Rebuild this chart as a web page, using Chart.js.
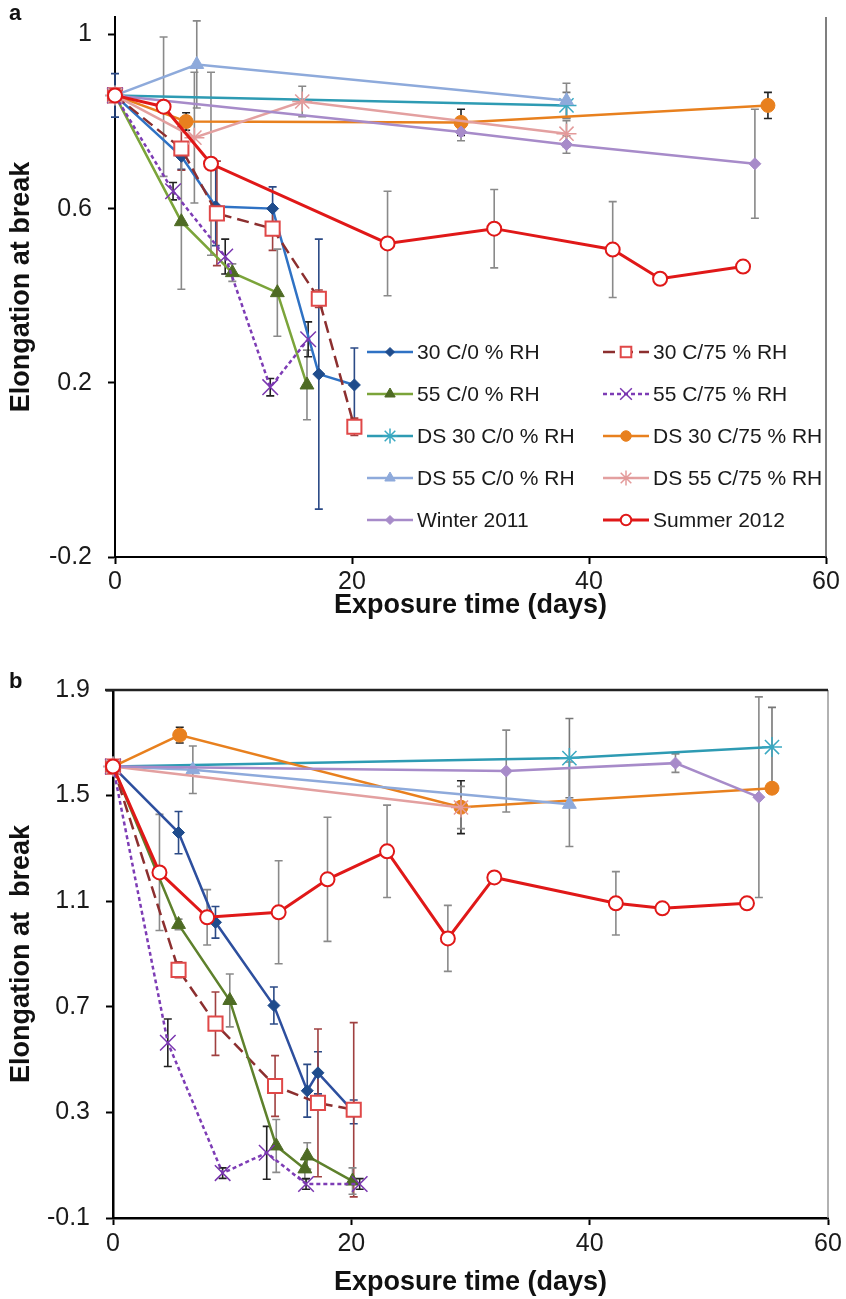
<!DOCTYPE html>
<html>
<head>
<meta charset="utf-8">
<script src="https://cdn.jsdelivr.net/npm/chart.js@4.4.1/dist/chart.umd.min.js"></script>
<style>
  body { margin: 0; background: #fff; }
  .wrap { position: absolute; left: 0; width: 846px; }
  .tag { position: absolute; left: 9px; font: bold 22px 'Liberation Sans', Arial, sans-serif; color: #111; }
</style>
</head>
<body>
<div class="wrap" style="top:0;height:650px"><canvas id="chartA" width="846" height="650"></canvas></div>
<div class="wrap" style="top:650px;height:649px"><canvas id="chartB" width="846" height="649"></canvas></div>
<div class="tag" style="top:0px">a</div>
<div class="tag" style="top:668px">b</div>
<script>
'use strict';

const seriesNames = ['30 C/0 % RH', '30 C/75 % RH', '55 C/0 % RH', '55 C/75 % RH',
  'DS 30 C/0 % RH', 'DS 30 C/75 % RH', 'DS 55 C/0 % RH', 'DS 55 C/75 % RH',
  'Winter 2011', 'Summer 2012'];
const xTicks = [0, 20, 40, 60];
const yTicksA = [-0.2, 0.2, 0.6, 1];
const yTicksB = [-0.1, 0.3, 0.7, 1.1, 1.5, 1.9];

// panel a - one row per series, same order as seriesNames
const daysA = [
  [0, 5.6, 8.5, 13.3, 17.2, 20.2],
  [0, 5.6, 8.6, 13.3, 17.2, 20.2],
  [0, 5.6, 9.9, 13.7, 16.2],
  [0, 4.9, 9.3, 13.1, 16.3],
  [0, 38.1],
  [0, 6.0, 29.2, 55.1],
  [0, 6.9, 38.1],
  [0, 6.7, 15.8, 38.1],
  [0, 29.2, 38.1, 54.0],
  [0, 4.1, 8.1, 23.0, 32.0, 42.0, 46.0, 53.0]
];
const valsA = [
  [0.86, 0.72, 0.605, 0.60, 0.22, 0.195],
  [0.86, 0.738, 0.589, 0.554, 0.393, 0.099],
  [0.86, 0.57, 0.453, 0.407, 0.195],
  [0.86, 0.64, 0.49, 0.19, 0.30],
  [0.86, 0.837],
  [0.86, 0.80, 0.798, 0.837],
  [0.86, 0.931, 0.848],
  [0.86, 0.763, 0.846, 0.772],
  [0.86, 0.776, 0.747, 0.703],
  [0.86, 0.834, 0.703, 0.52, 0.554, 0.506, 0.439, 0.467]
];
const errA = [
  [0.05, 0.03, 0.09, 0.05, 0.31, 0.085],
  [0, 0.05, 0.12, 0.05, 0.02, 0.02],
  [0, 0.155, 0.02, 0.1, 0.08],
  [0, 0.02, 0.04, 0.02, 0.04],
  [0, 0.03],
  [0, 0.02, 0.03, 0.03],
  [0, 0.1, 0.04],
  [0, 0.15, 0.035, 0.03],
  [0, 0.02, 0.02, 0.125],
  [0, 0.16, 0.21, 0.12, 0.09, 0.11, 0, 0]
];

// panel b
const daysB = [
  [0, 5.5, 8.6, 13.5, 16.3, 17.2, 20.2],
  [0, 5.5, 8.6, 13.6, 17.2, 20.2],
  [0, 5.5, 9.8, 13.7, 16.1, 16.3, 20.1],
  [0, 4.6, 9.2, 12.9, 16.2, 20.7],
  [0, 38.3, 55.3],
  [0, 5.6, 29.2, 55.3],
  [0, 6.7, 38.3],
  [0, 29.2],
  [0, 33.0, 47.2, 54.2],
  [0, 3.9, 7.9, 13.9, 18.0, 23.0, 28.1, 32.0, 42.2, 46.1, 53.2]
];
const valsB = [
  [1.61, 1.36, 1.02, 0.705, 0.382, 0.45, 0.302],
  [1.61, 0.84, 0.636, 0.40, 0.336, 0.31],
  [1.61, 1.012, 0.724, 0.173, 0.086, 0.135, 0.04],
  [1.61, 0.564, 0.07, 0.147, 0.029, 0.029],
  [1.61, 1.642, 1.684],
  [1.61, 1.729, 1.456, 1.528],
  [1.61, 1.598, 1.467],
  [1.61, 1.455],
  [1.61, 1.593, 1.623, 1.494],
  [1.61, 1.209, 1.039, 1.058, 1.183, 1.289, 0.959, 1.19, 1.092, 1.073, 1.092]
];
const errB = [
  [0, 0.08, 0.06, 0.07, 0.1, 0.08, 0.045],
  [0, 0.03, 0.12, 0.115, 0.28, 0.33],
  [0, 0.02, 0.1, 0.1, 0.04, 0.05, 0.05],
  [0, 0.09, 0.02, 0.1, 0.02, 0.02],
  [0, 0.15, 0.15],
  [0, 0.03, 0.1, 0],
  [0, 0.09, 0.16],
  [0, 0.08],
  [0, 0.155, 0.035, 0.38],
  [0, 0.22, 0.105, 0.195, 0.235, 0.175, 0.125, 0, 0.12, 0, 0]
];

// look of each series (Excel-like)
const styles = [
  { line: '#2F72C4', dash: [], width: 2.5, shape: 'rectRot', r: 6, fill: '#1F4C8C', edge: '#1F4C8C', bw: 1, bar: '#2B4A86' },
  { line: '#8C2F2F', dash: [12, 6], width: 2.5, shape: 'rect', r: 10, fill: '#ffffff', edge: '#E04848', bw: 2, bar: '#A04040' },
  { line: '#7BA43A', dash: [], width: 2.5, shape: 'triangle', r: 8, fill: '#4E6B24', edge: '#4E6B24', bw: 1, bar: '#8A8A8A' },
  { line: '#7D3CB5', dash: [4, 3], width: 2.5, shape: 'crossRot', r: 11, fill: '#7A36B0', edge: '#7A36B0', bw: 1.5, bar: '#222222' },
  { line: '#2E9BB3', dash: [], width: 2.5, shape: 'star', r: 10, fill: '#3AA9C2', edge: '#3AA9C2', bw: 1.5, bar: '#777777' },
  { line: '#E8801E', dash: [], width: 2.5, shape: 'circle', r: 7, fill: '#E8801E', edge: '#E8801E', bw: 1, bar: '#222222' },
  { line: '#8EAADB', dash: [], width: 2.5, shape: 'triangle', r: 8, fill: '#8EAADB', edge: '#8EAADB', bw: 1, bar: '#888888' },
  { line: '#E3A0A0', dash: [], width: 2.5, shape: 'star', r: 10, fill: '#E39A9A', edge: '#E39A9A', bw: 1.5, bar: '#888888' },
  { line: '#A78BC9', dash: [], width: 2.5, shape: 'rectRot', r: 6, fill: '#A78BC9', edge: '#A78BC9', bw: 1, bar: '#888888' },
  { line: '#E01818', dash: [], width: 3, shape: 'circle', r: 7, fill: '#ffffff', edge: '#E01818', bw: 2, bar: '#8A8A8A' }
];
// panel b prints the two 0 % RH lines a bit darker
const lineOverrideB = { 0: '#2D4F9E', 2: '#5E812C' };

const FONT = "'Liberation Sans', Arial, sans-serif";
Chart.defaults.font.family = FONT;
Chart.defaults.color = '#1a1a1a';

function buildDatasets(days, vals, errs, override) {
  return seriesNames.map((name, i) => {
    const s = styles[i];
    return {
      label: name,
      data: days[i].map((d, j) => ({ x: d, y: vals[i][j] })),
      errors: errs[i],
      errorColor: s.bar,
      borderColor: (override && override[i]) || s.line,
      borderWidth: s.width,
      borderDash: s.dash,
      pointStyle: s.shape,
      pointRadius: s.r,
      pointBackgroundColor: s.fill,
      pointBorderColor: s.edge,
      pointBorderWidth: s.bw,
      tension: 0,
      clip: false,
      order: -i // later series on top, like Excel
    };
  });
}

// vertical error bars with small caps, drawn behind the lines
const errorBars = {
  id: 'errorBars',
  beforeDatasetsDraw(chart) {
    const { ctx } = chart;
    const x = chart.scales.x, y = chart.scales.y;
    chart.data.datasets.forEach(ds => {
      if (!ds.errors) return;
      ctx.save();
      ctx.strokeStyle = ds.errorColor;
      ctx.lineWidth = 1.6;
      ds.data.forEach((p, i) => {
        const e = ds.errors[i];
        if (!e) return;
        const px = x.getPixelForValue(p.x);
        const top = y.getPixelForValue(p.y + e);
        const bot = y.getPixelForValue(p.y - e);
        ctx.beginPath();
        ctx.moveTo(px, top); ctx.lineTo(px, bot);
        ctx.moveTo(px - 4, top); ctx.lineTo(px + 4, top);
        ctx.moveTo(px - 4, bot); ctx.lineTo(px + 4, bot);
        ctx.stroke();
      });
      ctx.restore();
    });
  }
};

// right / top frame lines of the plot box
const frame = {
  id: 'frame',
  afterDraw(chart, args, opts) {
    const { ctx, chartArea: a } = chart;
    ctx.save();
    if (opts.right) {
      ctx.strokeStyle = opts.right.color; ctx.lineWidth = opts.right.width;
      ctx.beginPath(); ctx.moveTo(a.right, a.top); ctx.lineTo(a.right, a.bottom); ctx.stroke();
    }
    if (opts.top) {
      ctx.strokeStyle = opts.top.color; ctx.lineWidth = opts.top.width;
      ctx.beginPath(); ctx.moveTo(a.left - 8, a.top); ctx.lineTo(a.right, a.top); ctx.stroke();
    }
    ctx.restore();
  }
};

// two-column legend sitting inside panel a
const insetLegend = {
  id: 'insetLegend',
  afterDraw(chart, args, opts) {
    if (!opts.show) return;
    const { ctx, chartArea: a } = chart;
    ctx.save();
    chart.data.datasets.forEach((ds, i) => {
      const x = a.left + opts.cols[i % 2];
      const y = a.top + opts.top + Math.floor(i / 2) * opts.rowGap;
      ctx.strokeStyle = ds.borderColor;
      ctx.lineWidth = ds.borderWidth;
      ctx.setLineDash(ds.borderDash);
      ctx.beginPath(); ctx.moveTo(x, y); ctx.lineTo(x + opts.lineLen, y); ctx.stroke();
      ctx.setLineDash([]);
      ctx.fillStyle = ds.pointBackgroundColor;
      ctx.strokeStyle = ds.pointBorderColor;
      ctx.lineWidth = ds.pointBorderWidth;
      Chart.helpers.drawPoint(ctx, {
        pointStyle: ds.pointStyle, radius: ds.pointRadius * 0.75,
        rotation: 0, borderWidth: ds.pointBorderWidth
      }, x + opts.lineLen / 2, y);
      ctx.fillStyle = '#1a1a1a';
      ctx.font = opts.font;
      ctx.textBaseline = 'middle';
      ctx.fillText(ds.label, x + opts.lineLen + 4, y + 1);
    });
    ctx.restore();
  }
};

function makeOptions(cfg) {
  return {
    responsive: false,
    animation: false,
    layout: { padding: cfg.padding },
    plugins: {
      legend: { display: false },
      tooltip: { enabled: false },
      frame: cfg.frame,
      insetLegend: cfg.legend || { show: false }
    },
    scales: {
      x: {
        type: 'linear', min: 0, max: 60,
        afterBuildTicks: s => { s.ticks = xTicks.map(v => ({ value: v })); },
        afterFit: s => { s.height = cfg.xHeight; s.paddingLeft = 0; s.paddingRight = 0; },
        grid: { display: true, drawOnChartArea: false, drawTicks: true, tickLength: 7, tickColor: '#000', tickWidth: 2 },
        border: { display: true, color: '#000', width: cfg.axisWidth },
        ticks: { font: { size: 25 }, color: '#1a1a1a', padding: cfg.xPad, maxRotation: 0 },
        title: {
          display: true, text: 'Exposure time (days)', color: '#111',
          font: { size: 27, weight: 'bold' }, padding: { top: 0, bottom: cfg.xTitlePad }
        }
      },
      y: {
        type: 'linear', min: cfg.yMin, max: cfg.yMax,
        afterBuildTicks: s => { s.ticks = cfg.yTicks.map(v => ({ value: v })); },
        afterFit: s => { s.width = cfg.yWidth; s.paddingTop = 0; s.paddingBottom = 0; },
        grid: { display: true, drawOnChartArea: false, drawTicks: true, tickLength: 7, tickColor: '#000', tickWidth: 2 },
        border: { display: true, color: '#000', width: cfg.axisWidth },
        ticks: { font: { size: 25 }, color: '#1a1a1a', padding: 16, callback: v => String(v) },
        title: {
          display: true, text: cfg.yTitle, color: '#111',
          font: { size: 27, weight: 'bold' }, padding: { top: 5, bottom: 0 }
        }
      }
    }
  };
}

new Chart(document.getElementById('chartA'), {
  type: 'line',
  data: { datasets: buildDatasets(daysA, valsA, errA) },
  options: makeOptions({
    padding: { top: 17, right: 20, left: 0, bottom: 0 },
    xHeight: 93, xPad: 3, xTitlePad: 28, yWidth: 115, axisWidth: 2,
    yMin: -0.2, yMax: 1.04, yTicks: yTicksA, yTitle: 'Elongation at break',
    frame: { right: { color: '#555', width: 1.5 } },
    legend: { show: true, cols: [252, 488], top: 335, rowGap: 42, lineLen: 46, font: '21px ' + FONT }
  }),
  plugins: [errorBars, frame, insetLegend]
});

new Chart(document.getElementById('chartB'), {
  type: 'line',
  data: { datasets: buildDatasets(daysB, valsB, errB, lineOverrideB) },
  options: makeOptions({
    padding: { top: 40, right: 18, left: 0, bottom: 0 },
    xHeight: 81, xPad: 4, xTitlePad: 0, yWidth: 113, axisWidth: 2.5,
    yMin: -0.1, yMax: 1.9, yTicks: yTicksB, yTitle: 'Elongation at  break',
    frame: { right: { color: '#999', width: 1.5 }, top: { color: '#222', width: 2.5 } }
  }),
  plugins: [errorBars, frame, insetLegend]
});
</script>
</body>
</html>
